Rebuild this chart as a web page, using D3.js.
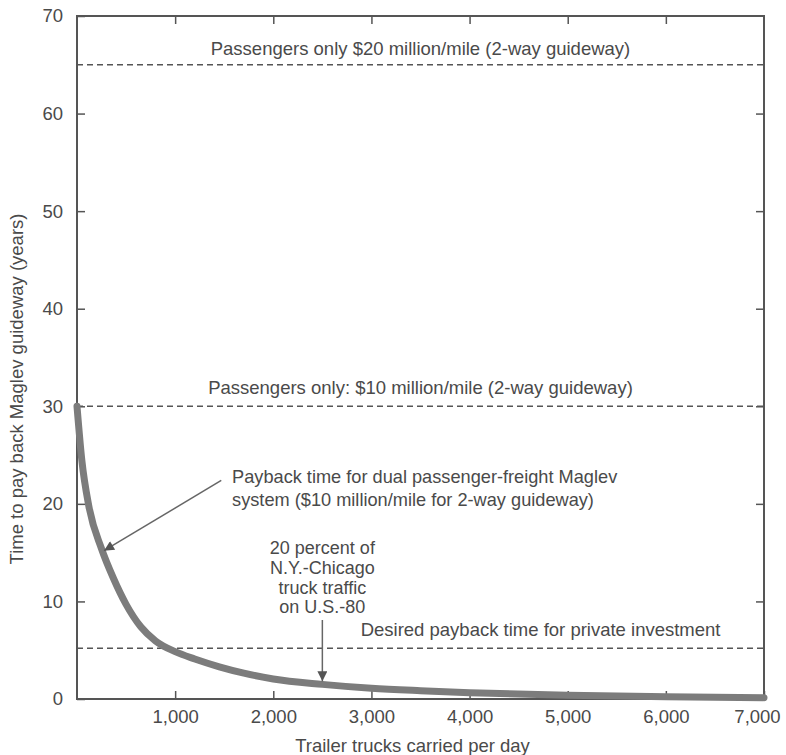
<!DOCTYPE html>
<html>
<head>
<meta charset="utf-8">
<script src="https://cdn.jsdelivr.net/npm/d3@7"></script>
<style>
  body { margin: 0; background: #fff; }
  svg text { font-family: "Liberation Sans", Arial, sans-serif; fill: #4a4a4a; }
</style>
</head>
<body>
<svg id="chart" width="786" height="755"></svg>
<script>
// trucks per day vs payback years
const trucks = [0, 50, 120, 250, 370, 500, 650, 800, 1000, 1200, 1450, 1700, 2000, 2500, 3000, 3500, 4000, 5000, 6000, 7000];
const years = [30, 24.4, 19.8, 15.4, 12.4, 9.7, 7.4, 5.95, 4.85, 4.1, 3.3, 2.65, 2.05, 1.5, 1.1, 0.85, 0.65, 0.38, 0.24, 0.14];

// horizontal reference levels
const refLabels = [
    "Passengers only $20 million/mile (2-way guideway)",
    "Passengers only: $10 million/mile (2-way guideway)",
    "Desired payback time for private investment"
];
const refYears = [65, 30, 5.2];

const xTicks = [1000, 2000, 3000, 4000, 5000, 6000, 7000];
const yTicks = [0, 10, 20, 30, 40, 50, 60, 70];

const svg = d3.select("#chart");
const margin = {top: 16, right: 22, bottom: 56, left: 77};
const width = +svg.attr("width"), height = +svg.attr("height");
const iw = width - margin.left - margin.right;
const ih = height - margin.top - margin.bottom;

const x = d3.scaleLinear().domain([0, 7000]).range([0, iw]);
const y = d3.scaleLinear().domain([0, 70]).range([ih, 0]);

const g = svg.append("g").attr("transform", `translate(${margin.left},${margin.top})`);

// arrow head
svg.append("defs").append("marker")
    .attr("id", "head")
    .attr("viewBox", "0 0 10 10")
    .attr("refX", 10).attr("refY", 5)
    .attr("markerWidth", 11).attr("markerHeight", 10)
    .attr("markerUnits", "userSpaceOnUse")
    .attr("orient", "auto")
    .append("path")
    .attr("d", "M0,0 L10,5 L0,10 Z")
    .attr("fill", "#555");

// axes, ticks pointing inwards on all four sides
const styleAxis = sel => {
    sel.select(".domain").remove();
    sel.selectAll("line").attr("stroke", "#555").attr("stroke-width", 1.5);
    sel.selectAll("text").attr("font-size", 18.5).attr("fill", "#4a4a4a");
};
const xAxis = g.append("g").attr("transform", `translate(0,${ih})`)
    .call(d3.axisBottom(x).tickValues(xTicks).tickSize(-8).tickPadding(11).tickFormat(d3.format(",")))
    .call(styleAxis);
// last label sits a bit left so it stays on the page
xAxis.selectAll(".tick text").filter(d => d === 7000).attr("dx", -7);
g.append("g")
    .call(d3.axisTop(x).tickValues(xTicks.slice(0, -1)).tickSize(-8).tickFormat(""))
    .call(styleAxis);
g.append("g")
    .call(d3.axisLeft(y).tickValues(yTicks).tickSize(-8).tickPadding(14))
    .call(styleAxis);
g.append("g").attr("transform", `translate(${iw},0)`)
    .call(d3.axisRight(y).tickValues(yTicks.slice(1, -1)).tickSize(-8).tickFormat(""))
    .call(styleAxis);

g.append("rect")
    .attr("width", iw).attr("height", ih)
    .attr("fill", "none").attr("stroke", "#555").attr("stroke-width", 2);

// dashed reference lines
g.selectAll(".ref").data(refYears).join("line")
    .attr("class", "ref")
    .attr("x1", 0).attr("x2", iw)
    .attr("y1", d => y(d)).attr("y2", d => y(d))
    .attr("stroke", "#555").attr("stroke-width", 1.6)
    .attr("stroke-dasharray", "6,4");

// payback curve
const pts = trucks.map((t, i) => [t, years[i]]);
g.append("path")
    .datum(pts)
    .attr("fill", "none")
    .attr("stroke", "#7c7c7c")
    .attr("stroke-width", 7)
    .attr("stroke-linecap", "round")
    .attr("d", d3.line().x(d => x(d[0])).y(d => y(d[1])).curve(d3.curveMonotoneX));

// labels of reference lines
g.append("text").attr("x", iw / 2).attr("y", y(65) - 10)
    .attr("text-anchor", "middle").attr("font-size", 18.5).text(refLabels[0]);
g.append("text").attr("x", iw / 2).attr("y", y(30) - 12)
    .attr("text-anchor", "middle").attr("font-size", 18.5).text(refLabels[1]);
g.append("text").attr("x", x(2890)).attr("y", y(5.2) - 12)
    .attr("font-size", 18.5).text(refLabels[2]);

// curve annotation
g.append("text").attr("x", x(1580)).attr("y", y(22.3) + 2)
    .attr("font-size", 18.2)
    .selectAll("tspan")
    .data(["Payback time for dual passenger-freight Maglev", "system ($10 million/mile for 2-way guideway)"])
    .join("tspan")
    .attr("x", x(1580)).attr("dy", (d, i) => i ? 22.7 : 0)
    .text(d => d);
g.append("line")
    .attr("x1", x(1470)).attr("y1", y(22.4))
    .attr("x2", x(275)).attr("y2", y(15.2))
    .attr("stroke", "#666").attr("stroke-width", 1.5)
    .attr("marker-end", "url(#head)");

// 20 percent annotation
const noteLines = ["20 percent of", "N.Y.-Chicago", "truck traffic", "on U.S.-80"];
g.append("text").attr("text-anchor", "middle").attr("font-size", 18)
    .selectAll("tspan").data(noteLines).join("tspan")
    .attr("x", x(2500)).attr("y", (d, i) => 538 + i * 19.8)
    .text(d => d);
g.append("line")
    .attr("x1", x(2500)).attr("y1", 604)
    .attr("x2", x(2500)).attr("y2", y(1.5) - 3)
    .attr("stroke", "#666").attr("stroke-width", 1.5)
    .attr("marker-end", "url(#head)");

// axis titles
svg.append("text")
    .attr("x", margin.left + iw / 2 - 8).attr("y", 752)
    .attr("text-anchor", "middle").attr("font-size", 18.5)
    .text("Trailer trucks carried per day");
svg.append("text")
    .attr("transform", "translate(23,389) rotate(-90)")
    .attr("text-anchor", "middle").attr("font-size", 18.5)
    .text("Time to pay back Maglev guideway (years)");
</script>
</body>
</html>
